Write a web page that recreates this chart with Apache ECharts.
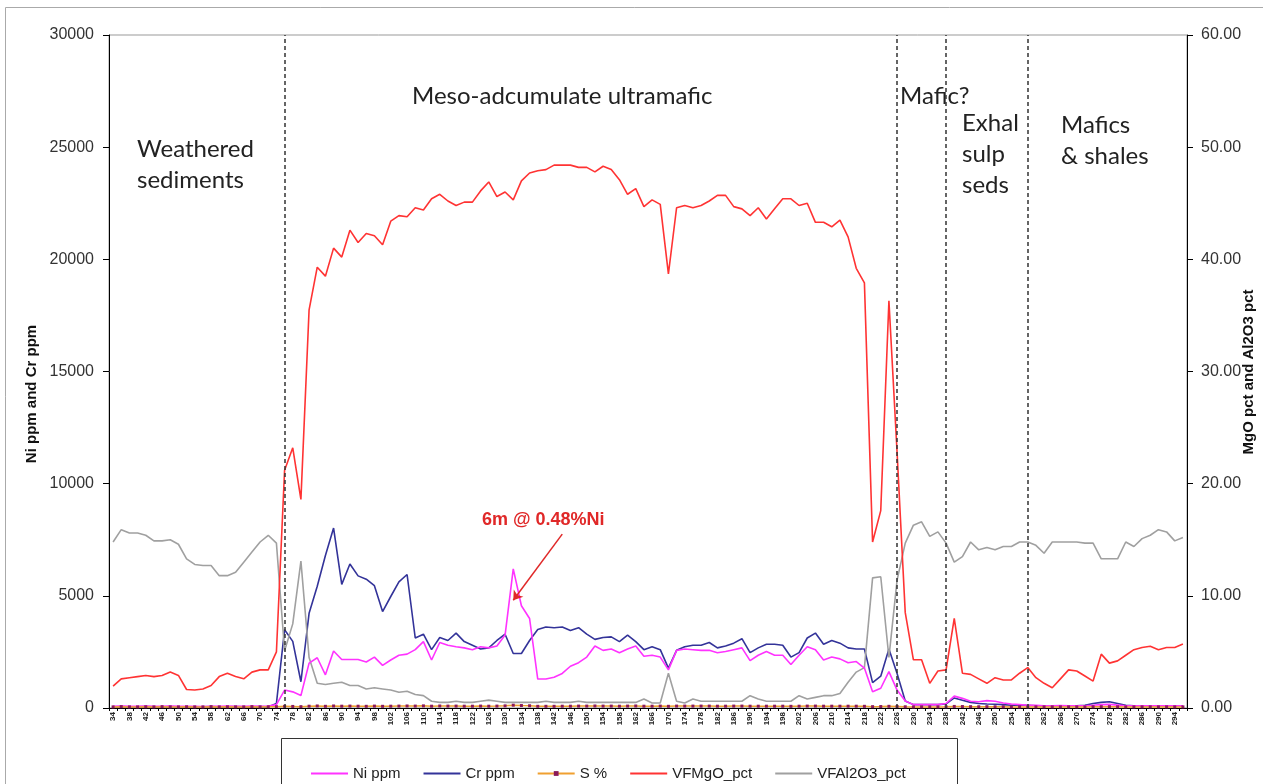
<!DOCTYPE html>
<html>
<head>
<meta charset="utf-8">
<script src="https://cdn.jsdelivr.net/npm/echarts@6/dist/echarts.min.js"></script>
<style>
html,body{margin:0;padding:0;background:#fff;}
#chart{width:1263px;height:784px;}
</style>
</head>
<body>
<div id="chart"></div>
<script>
// Depth categories (m)
const categories = ['34','36','38','40','42','44','46','48','50','52','54','56','58','60','62','64','66','68','70','72','74','76','78','80','82','84','86','88','90','92','94','96','98','100','102','104','106','108','110','112','114','116','118','120','122','124','126','128','130','132','134','136','138','140','142','144','146','148','150','152','154','156','158','160','162','164','166','168','170','172','174','176','178','180','182','184','186','188','190','192','194','196','198','200','202','204','206','208','210','212','214','216','218','220','222','224','226','228','230','232','234','236','238','240','242','244','246','248','250','252','254','256','258','260','262','264','266','268','270','272','274','276','278','280','282','284','286','288','290','292','294','296'];

const niPpm = [80,90,80,80,90,80,80,90,80,80, 80,70,80,80,90,80,80,90,80,90,
  150,800,720,560,2000,2240,1480,2540,2160,2160, 2160,2050,2270,1900,2140,2350,2400,2600,2960,2140,
  2920,2800,2730,2680,2600,2730,2680,2760,3250,6200, 4560,3990,1290,1290,1370,1540,1860,2020,2270,2760,
  2570,2630,2465,2630,2760,2305,2350,2270,1700,2570, 2630,2600,2570,2570,2465,2515,2600,2680,2110,2350,
  2515,2350,2350,1940,2350,2730,2600,2140,2270,2190, 2020,2070,1780,720,880,1620,800,310,150,150,
  150,150,200,530,430,300,280,330,300,220, 180,150,120,120,100,100,110,100,100,100,
  120,150,160,130,100,100,100,100,100,100,100,100];

const crPpm = [50,60,50,50,60,50,50,60,50,50, 50,50,60,50,50,60,50,50,60,50,
  200,3490,2970,1170,4220,5430,6800,8020,5510,6420, 5890,5740,5450,4300,4970,5620,5950,3120,3290,2600,
  3140,3010,3340,2960,2800,2630,2680,3010,3290,2430, 2430,3010,3500,3610,3580,3610,3450,3580,3290,3060,
  3140,3170,2960,3250,2960,2600,2730,2600,1780,2570, 2730,2800,2800,2920,2680,2760,2890,3090,2470,2680,
  2840,2840,2800,2270,2470,3120,3340,2840,3010,2890, 2680,2630,2630,1130,1420,2630,1540,310,150,150,
  150,150,180,450,350,250,200,180,170,150, 120,120,120,100,100,100,100,100,100,120,
  200,250,280,200,120,100,100,100,100,100,100,100];

const sPct = [0.10,0.12,0.10,0.10,0.11,0.10,0.12,0.10,0.10,0.11, 0.10,0.10,0.12,0.10,0.11,0.10,0.10,0.12,0.10,0.11,
  0.12,0.15,0.14,0.12,0.16,0.18,0.15,0.18,0.16,0.17, 0.16,0.15,0.17,0.15,0.16,0.17,0.18,0.17,0.19,0.16,
  0.18,0.17,0.17,0.16,0.16,0.17,0.16,0.17,0.19,0.25, 0.22,0.20,0.15,0.15,0.15,0.16,0.16,0.17,0.17,0.18,
  0.17,0.17,0.16,0.17,0.18,0.16,0.16,0.17,0.15,0.17, 0.17,0.17,0.17,0.17,0.16,0.16,0.17,0.17,0.16,0.16,
  0.16,0.16,0.16,0.15,0.16,0.17,0.17,0.16,0.16,0.16, 0.16,0.16,0.15,0.12,0.13,0.15,0.13,0.11,0.10,0.10,
  0.10,0.10,0.11,0.14,0.13,0.12,0.11,0.12,0.11,0.11, 0.10,0.10,0.10,0.10,0.10,0.10,0.10,0.10,0.10,0.10,
  0.11,0.12,0.12,0.11,0.10,0.10,0.10,0.10,0.10,0.10,0.10,0.10];

const mgoPct = [1.95,2.6,2.7,2.8,2.9,2.8,2.9,3.2,2.9,1.65, 1.6,1.7,2.0,2.8,3.1,2.8,2.6,3.2,3.4,3.4,
  5.0,21.2,23.2,18.6,35.5,39.3,38.5,41.0,40.2,42.6, 41.5,42.3,42.1,41.3,43.4,43.9,43.8,44.6,44.4,45.4,
  45.8,45.2,44.8,45.1,45.1,46.1,46.9,45.6,46.0,45.3, 47.0,47.7,47.9,48.0,48.4,48.4,48.4,48.2,48.2,47.8,
  48.3,48.0,47.1,45.8,46.3,44.7,45.3,44.9,38.7,44.6, 44.8,44.6,44.8,45.2,45.7,45.7,44.7,44.5,43.9,44.6,
  43.6,44.5,45.4,45.4,44.8,45.0,43.3,43.3,42.9,43.5, 42.0,39.2,37.9,14.8,17.6,36.3,22.8,8.5,4.3,4.3,
  2.2,3.3,3.4,8.0,3.1,3.0,2.6,2.2,2.7,2.5, 2.5,3.1,3.6,2.7,2.2,1.8,2.6,3.4,3.3,2.85,
  2.4,4.8,4.0,4.2,4.7,5.2,5.4,5.5,5.2,5.4,5.4,5.7];

const al2o3Pct = [14.8,15.9,15.6,15.6,15.4,14.9,14.9,15.0,14.6,13.3, 12.8,12.7,12.7,11.8,11.8,12.1,13.0,13.9,14.8,15.4,
  14.7,5.1,7.5,13.1,4.5,2.2,2.1,2.2,2.3,2.0, 2.0,1.7,1.8,1.7,1.6,1.4,1.5,1.2,1.1,0.6,
  0.5,0.5,0.6,0.5,0.5,0.6,0.7,0.6,0.5,0.5, 0.5,0.5,0.5,0.6,0.5,0.5,0.5,0.6,0.5,0.5,
  0.5,0.5,0.5,0.5,0.5,0.8,0.45,0.45,3.1,0.6, 0.45,0.8,0.6,0.6,0.6,0.6,0.6,0.6,1.1,0.8,
  0.6,0.6,0.6,0.6,1.1,0.8,0.95,1.1,1.1,1.3, 2.3,3.2,3.6,11.6,11.7,4.5,11.4,14.7,16.3,16.6,
  15.3,15.7,14.7,13.0,13.5,14.8,14.1,14.3,14.1,14.4, 14.4,14.8,14.8,14.5,13.8,14.8,14.8,14.8,14.8,14.7,
  14.7,13.3,13.3,13.3,14.8,14.4,15.1,15.4,15.9,15.7,14.9,15.2];

const leftTicks = {min: 0, max: 30000, interval: 5000};
const rightTicks = {min: 0, max: 60, interval: 10};
const regionBoundaries = ['76','226','238','258'];
const annotationArrow = {from: ['144', 7750], to: ['132', 4800]};

const chart = echarts.init(document.getElementById('chart'), null, {renderer: 'canvas'});
const AX = 'Liberation Sans, Arial, sans-serif';
const REG = 'Lato, Open Sans, sans-serif';

function regionText(x, y, text) {
  return {type: 'text', left: x, top: y, style: {text: text, font: '24px ' + REG, fill: '#222', lineHeight: 31}};
}
const noMarker = {opacity: 0};

chart.setOption({
  backgroundColor: '#fff',
  animation: false,
  textStyle: {fontFamily: AX},
  grid: {left: 109, right: 76, top: 35, bottom: 76, show: true, borderColor: '#999', borderWidth: 1, backgroundColor: 'transparent'},
  legend: {
    left: 305, top: 761, itemWidth: 37, itemHeight: 6, itemGap: 22,
    textStyle: {fontSize: 15, color: '#222', fontFamily: AX},
    data: [
      {name: 'Ni ppm', itemStyle: noMarker},
      {name: 'Cr ppm', itemStyle: noMarker},
      {name: 'S %'},
      {name: 'VFMgO_pct', itemStyle: noMarker},
      {name: 'VFAl2O3_pct', itemStyle: noMarker}
    ]
  },
  xAxis: {
    type: 'category', data: categories, boundaryGap: true,
    axisLine: {show: true, lineStyle: {color: '#000', width: 1}},
    axisTick: {show: true, interval: 0, length: 3, lineStyle: {color: '#000'}},
    axisLabel: {interval: 1, rotate: 90, fontSize: 8, color: '#222', margin: 4, fontWeight: 'bold'},
    splitLine: {show: false}
  },
  yAxis: [
    {type: 'value', min: leftTicks.min, max: leftTicks.max, interval: leftTicks.interval,
     axisLine: {show: true, lineStyle: {color: '#000'}},
     axisTick: {show: true, length: 6, lineStyle: {color: '#000'}},
     axisLabel: {fontSize: 16, color: '#333', margin: 15, formatter: v => String(v)},
     splitLine: {show: false}},
    {type: 'value', position: 'right', min: rightTicks.min, max: rightTicks.max, interval: rightTicks.interval,
     axisLine: {show: true, lineStyle: {color: '#000'}},
     axisTick: {show: true, length: 6, lineStyle: {color: '#000'}},
     axisLabel: {fontSize: 16, color: '#333', margin: 14, formatter: v => v.toFixed(2)},
     splitLine: {show: false}}
  ],
  series: [
    {name: 'Ni ppm', type: 'line', yAxisIndex: 0, data: niPpm, symbol: 'none',
     lineStyle: {color: '#ff33ff', width: 1.6}, itemStyle: {color: '#ff33ff'}, z: 3,
     markLine: {silent: true, symbol: ['none','arrow'], symbolSize: 9,
       lineStyle: {color: '#e02828', width: 1.5, type: 'solid'}, label: {show: false},
       data: [[{coord: annotationArrow.from}, {coord: annotationArrow.to}]]}},
    {name: 'Cr ppm', type: 'line', yAxisIndex: 0, data: crPpm, symbol: 'none',
     lineStyle: {color: '#333399', width: 1.6}, itemStyle: {color: '#333399'}, z: 2},
    {name: 'S %', type: 'line', yAxisIndex: 1, data: sPct, symbol: 'rect', symbolSize: 3, showSymbol: true,
     lineStyle: {color: '#f0a030', width: 1.5}, itemStyle: {color: '#8b1a5a'}, z: 4},
    {name: 'VFMgO_pct', type: 'line', yAxisIndex: 1, data: mgoPct, symbol: 'none',
     lineStyle: {color: '#ff3333', width: 1.6}, itemStyle: {color: '#ff3333'}, z: 3,
     markLine: {silent: true, symbol: 'none', label: {show: false},
       lineStyle: {color: '#333', width: 1.5, type: [4, 3]},
       data: regionBoundaries.map(c => ({xAxis: c}))}},
    {name: 'VFAl2O3_pct', type: 'line', yAxisIndex: 1, data: al2o3Pct, symbol: 'none',
     lineStyle: {color: '#a0a0a0', width: 1.6}, itemStyle: {color: '#a0a0a0'}, z: 2}
  ],
  graphic: [
    {type: 'rect', shape: {x: 5.5, y: 7.5, width: 1300, height: 800}, style: {fill: 'none', stroke: '#aaa', lineWidth: 1}, silent: true, z: -10},
    {type: 'rect', shape: {x: 281.5, y: 738.5, width: 676, height: 80}, style: {fill: 'none', stroke: '#333', lineWidth: 1}, silent: true},
    {type: 'text', x: 32, y: 394, rotation: Math.PI / 2, style: {text: 'Ni ppm and Cr ppm', font: 'bold 15px ' + AX, fill: '#111', textAlign: 'center', textVerticalAlign: 'middle'}},
    {type: 'text', x: 1249, y: 372, rotation: Math.PI / 2, style: {text: 'MgO pct and Al2O3 pct', font: 'bold 15px ' + AX, fill: '#111', textAlign: 'center', textVerticalAlign: 'middle'}},
    regionText(137, 134, 'Weathered\nsediments'),
    regionText(412, 81, 'Meso-adcumulate ultramafic'),
    regionText(900, 81, 'Mafic?'),
    regionText(962, 108, 'Exhal\nsulp\nseds'),
    regionText(1061, 110, 'Mafics\n& shales'),
    {type: 'text', left: 482, top: 511, style: {text: '6m @ 0.48%Ni', font: 'bold 18px ' + AX, fill: '#e02828'}}
  ]
});
</script>
</body>
</html>
